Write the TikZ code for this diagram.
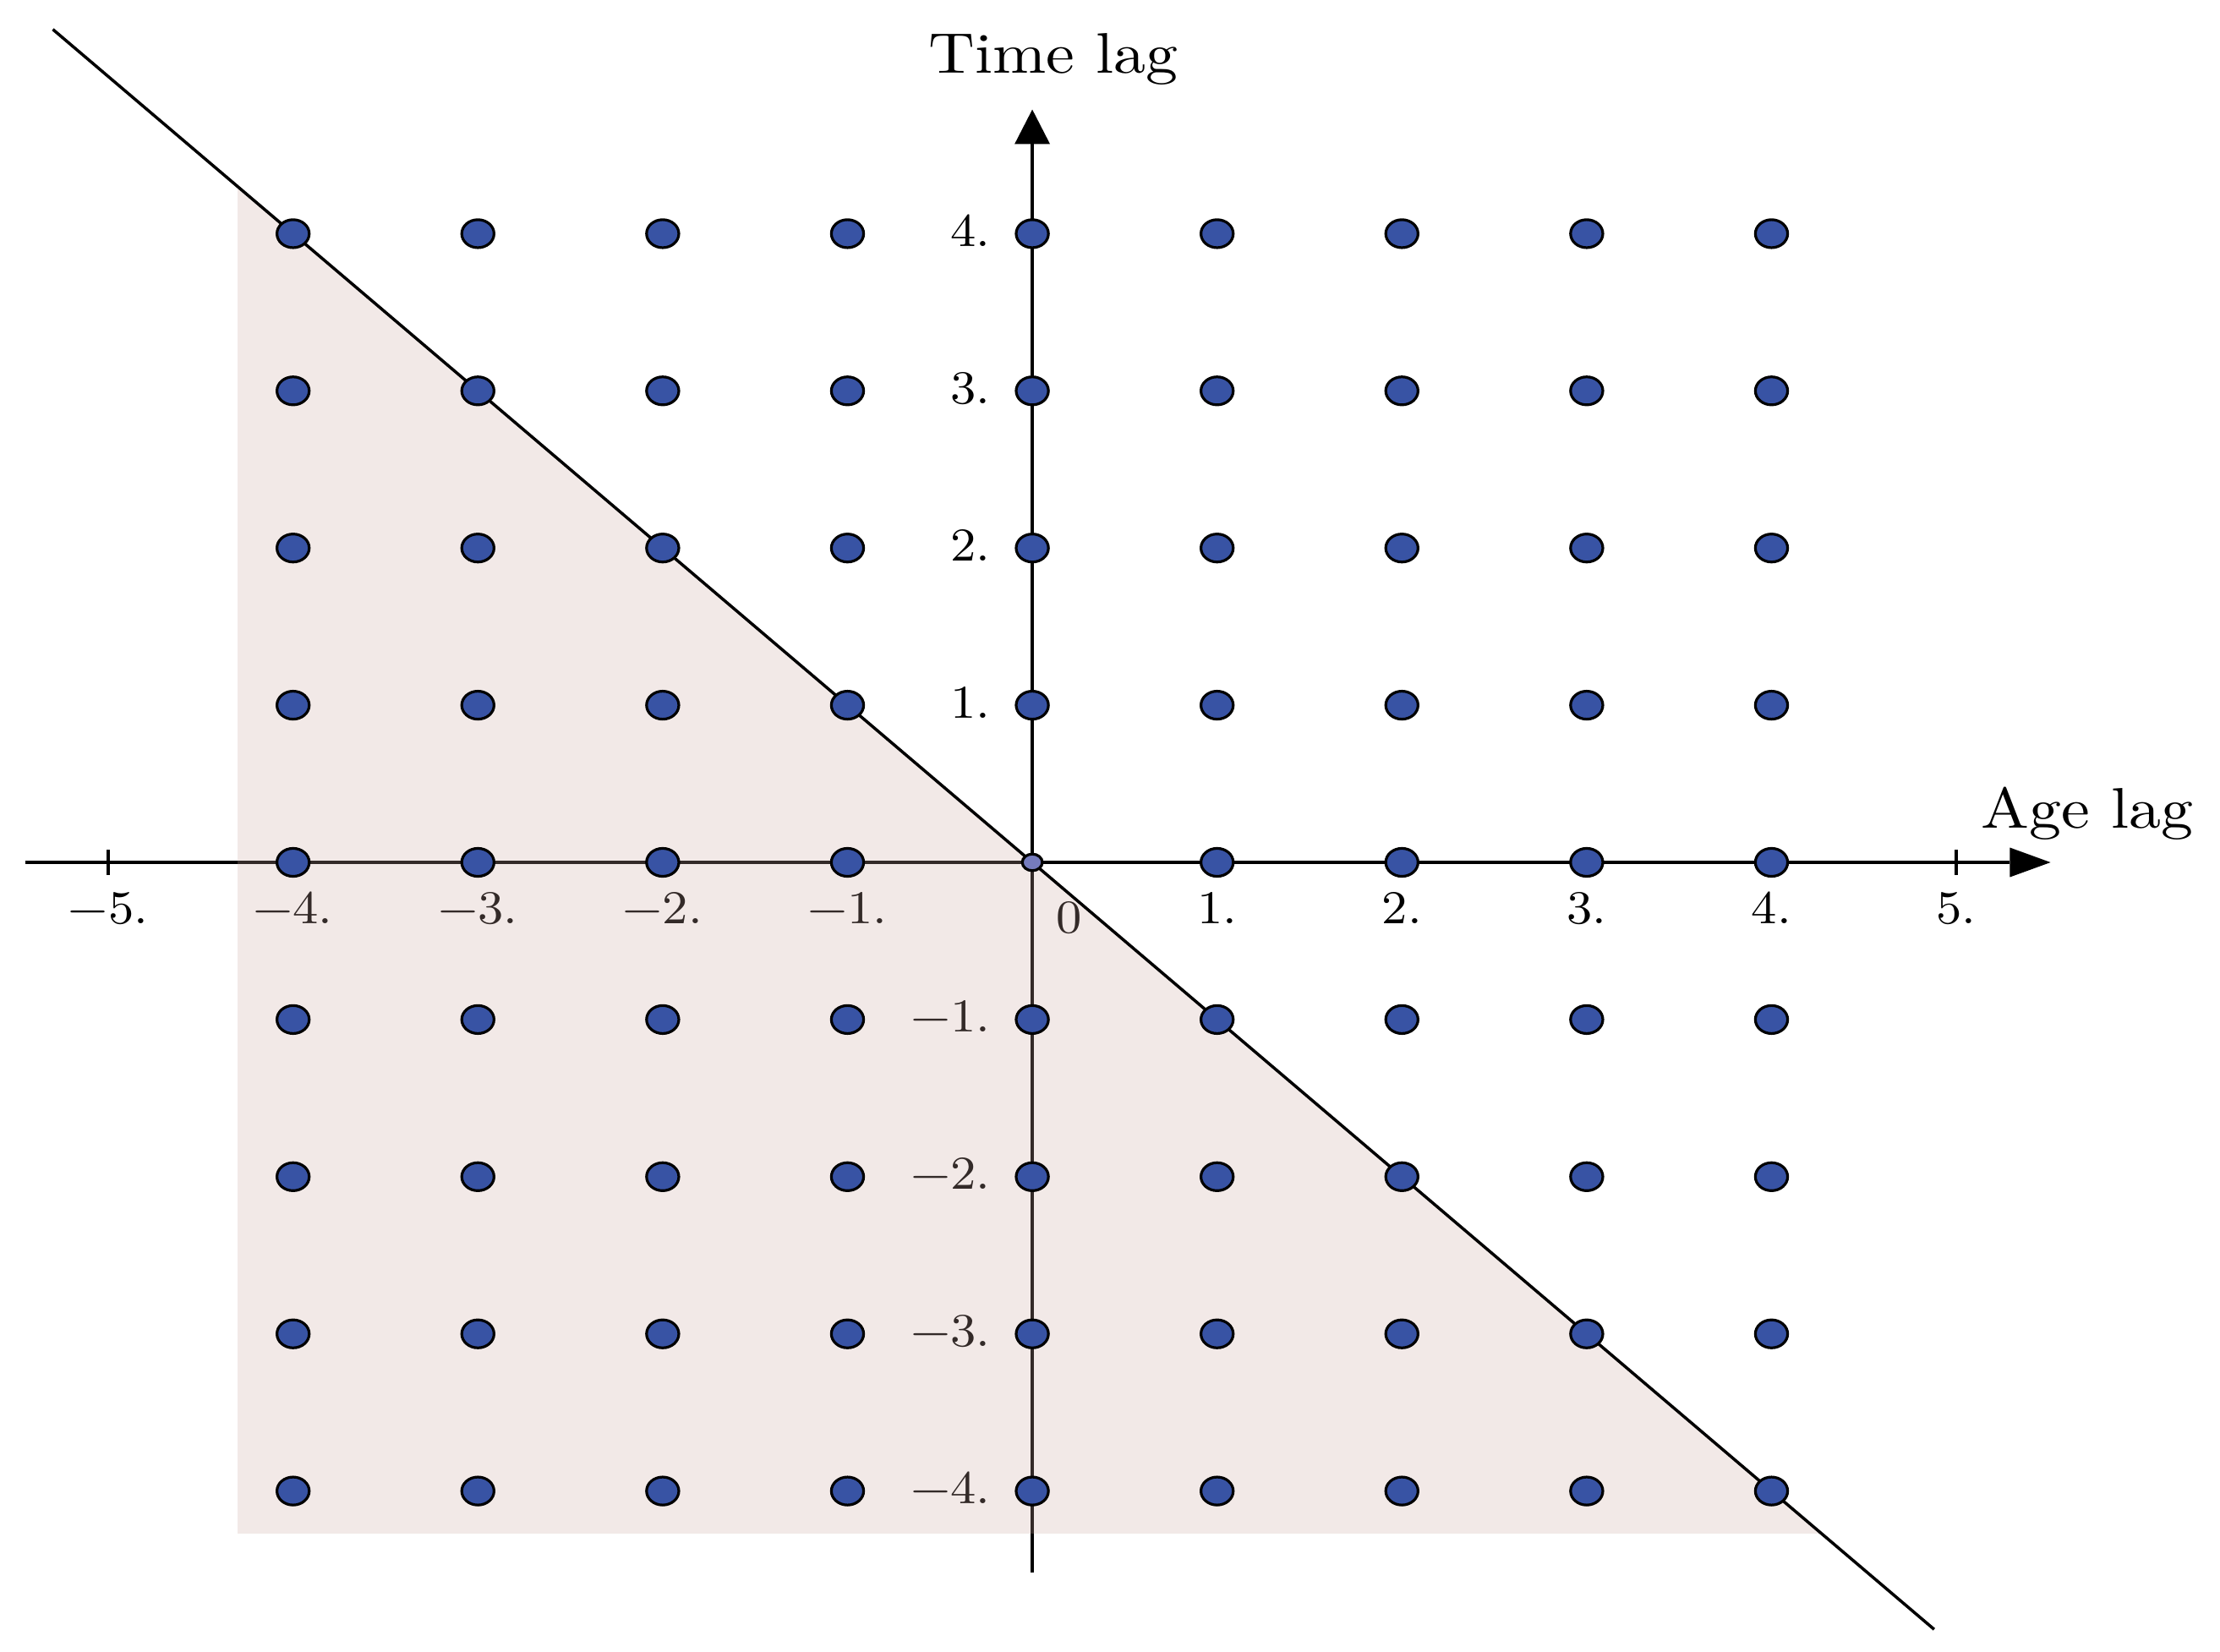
\documentclass[tikz,border=0pt]{standalone}
\usepackage{fontspec}
\setmainfont{Latin Modern Roman}
\definecolor{dotblue}{RGB}{56,83,164}
\definecolor{shadecol}{RGB}{205,168,160}
\definecolor{origdot}{RGB}{118,124,190}
\tikzset{
  axisline/.style={line width=0.55pt, black},
  dotstyle/.style={fill=dotblue, draw=black, line width=0.5pt},
  ticklab/.style={inner sep=0pt, xscale=1.06, font=\fontsize{8.7}{10}\selectfont},
  axislab/.style={inner sep=0pt, xscale=1.12, font=\fontsize{10.6}{12}\selectfont},
  shaderegion/.style={fill=shadecol, fill opacity=0.25, draw=none}
}
\begin{document}
\begin{tikzpicture}[x=1.2023cm, y=1.02245cm]
\useasboundingbox (-5.586,-5.019) rectangle (6.427,5.487);
% named points
\coordinate (xstart) at (-5.45,0);
\coordinate (xbase) at (5.29,0);
\coordinate (xtip) at (5.51,0);
\coordinate (ystart) at (0,-4.52);
\coordinate (ybase) at (0,4.57);
\coordinate (ytip) at (0,4.79);
\coordinate (O) at (0,0);
\coordinate (dstart) at (-5.3,5.3);
\coordinate (dend) at (4.88,-4.88);
% axes
\draw[axisline] (xstart) -- (xbase);
\draw[axisline] (ystart) -- (ybase);
\fill (xtip) -- (5.29,0.094) -- (5.29,-0.094) -- cycle;
\fill (ytip) -- (-0.096,4.57) -- (0.096,4.57) -- cycle;
\draw[axisline] (-5,-0.08) -- (-5,0.08);
\draw[axisline] (5,-0.08) -- (5,0.08);
% tick labels
\foreach \k/\t in {-5/−5., -4/−4., -3/−3., -2/−2., -1/−1., 1/1., 2/2., 3/3., 4/4., 5/5.} {
  \node[ticklab, anchor=base] (xl\k) at (\k,-0.39) {\t};
}
\node[ticklab, anchor=base] (xl0) at (0.197,-0.45) {0};
\foreach \k/\t in {-4/−4., -3/−3., -2/−2., -1/−1., 1/1., 2/2., 3/3., 4/4.} {
  \node[ticklab, anchor=base east] (yl\k) at (-0.221,\k-0.081) {\t};
}
% axis labels
\node[axislab, anchor=base] (tlab) at (0.113,5.02) {Time lag};
\node[axislab, anchor=base] (alab) at (5.707,0.22) {Age lag};
% shaded region
\fill[shaderegion] (-4.3,4.3) -- (-4.3,-4.27) -- (4.27,-4.27) -- cycle;
% diagonal
\draw[axisline] (dstart) -- (dend);
% origin point
\filldraw[fill=origdot, draw=black, line width=0.5pt] (O) ellipse [x radius=0.065cm, y radius=0.054cm];
% lattice dots
\foreach \i in {-4,...,4} {
  \foreach \j in {-4,...,4} {
    \ifnum\i=0 \ifnum\j=0 \else
      \filldraw[dotstyle] (\i,\j) ellipse [x radius=0.105cm, y radius=0.091cm];
    \fi \else
      \filldraw[dotstyle] (\i,\j) ellipse [x radius=0.105cm, y radius=0.091cm];
    \fi
  }
}
\end{tikzpicture}
\end{document}
